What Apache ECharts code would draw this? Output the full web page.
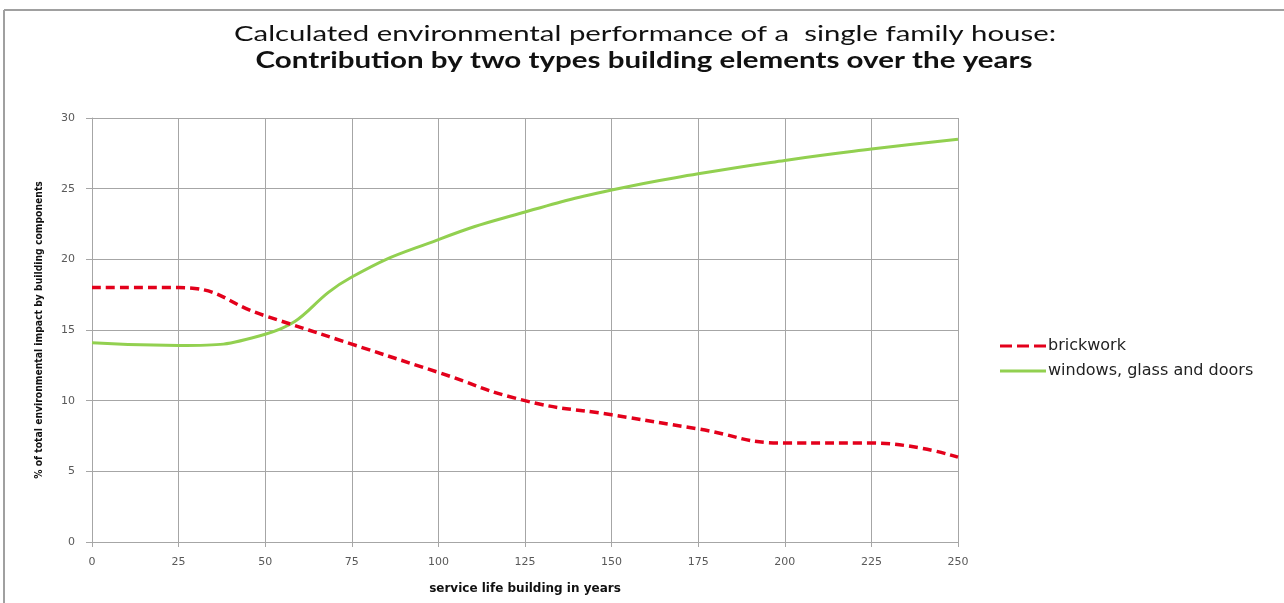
<!DOCTYPE html>
<html>
<head>
<meta charset="utf-8">
<script src="https://cdn.jsdelivr.net/npm/echarts@6/dist/echarts.min.js"></script>
<style>
  html, body { margin: 0; padding: 0; background: #fff; }
  #chart { width: 1284px; height: 603px; }
</style>
</head>
<body>
<div id="chart"></div>
<script>
// Service life in years (x values)
const years = [0, 25, 50, 75, 100, 125, 150, 175, 200, 225, 250];
// Share of total environmental impact (%)
const brickwork = [18, 18, 16, 14, 12, 10, 9, 8, 7, 7, 6];
const windowsGlassDoors = [14.1, 13.9, 14.7, 18.75, 21.4, 23.35, 24.9, 26.05, 27.0, 27.8, 28.5];
const seriesNames = ['brickwork', 'windows, glass and doors'];
const titleLines = ['Calculated environmental performance of a  single family house:',
                    'Contribution by two types building elements over the years'];

const gridColor = '#a6a6a6';
const tickColor = '#595959';
const red = '#e3001b';
const green = '#92d050';

// legend keys: dashed and solid line swatches
const dashedKey = 'path://M0,0h12v3h-12z M17,0h12v3h-12z M34,0h12v3h-12z';
const solidKey = 'path://M0,0h46v3h-46z';

const chart = echarts.init(document.getElementById('chart'), null, { renderer: 'canvas' });

chart.setOption({
  backgroundColor: '#ffffff',
  animation: false,
  graphic: [
    // outer frame (top and left edges)
    { type: 'line', shape: { x1: 4, y1: 10, x2: 1284, y2: 10 }, style: { stroke: '#a0a0a0', lineWidth: 2 } },
    { type: 'line', shape: { x1: 4, y1: 10, x2: 4, y2: 603 }, style: { stroke: '#a0a0a0', lineWidth: 2 } },
    // two-line heading, widened type
    {
      type: 'text', x: 645, y: 34, scaleX: 1.334,
      style: { text: titleLines[0], align: 'center', verticalAlign: 'middle',
               font: 'normal 22px Lato', fill: '#111' }
    },
    {
      type: 'text', x: 644, y: 61, scaleX: 1.342,
      style: { text: titleLines[1], align: 'center', verticalAlign: 'middle',
               font: 'bold 22px Lato', fill: '#111' }
    }
  ],
  legend: {
    orient: 'vertical',
    left: 995, top: 333,
    itemWidth: 46, itemHeight: 3, itemGap: 9,
    textStyle: { fontFamily: 'DejaVu Sans', fontSize: 16, color: '#222', padding: [0, 0, 0, -3] },
    data: [
      { name: seriesNames[0], icon: dashedKey },
      { name: seriesNames[1], icon: solidKey }
    ]
  },
  grid: { left: 92, right: 326, top: 118, bottom: 61 },
  xAxis: {
    type: 'value', min: 0, max: 250, interval: 25,
    name: 'service life building in years',
    nameLocation: 'middle', nameGap: 41,
    nameTextStyle: { fontFamily: 'DejaVu Sans', fontSize: 12, fontWeight: 'bold', color: '#111' },
    axisLine: { show: true, lineStyle: { color: gridColor, width: 1 } },
    axisTick: { show: true, length: 5, lineStyle: { color: gridColor } },
    axisLabel: { margin: 15, fontFamily: 'DejaVu Sans', fontSize: 11, color: tickColor },
    splitLine: { show: true, lineStyle: { color: gridColor, width: 1 } }
  },
  yAxis: {
    type: 'value', min: 0, max: 30, interval: 5,
    name: '% of total environmental impact by building components',
    nameLocation: 'middle', nameGap: 48, nameRotate: 90,
    nameTextStyle: { fontFamily: 'DejaVu Sans Condensed', fontSize: 10.3, fontWeight: 'bold', color: '#111' },
    axisLine: { show: true, lineStyle: { color: gridColor, width: 1 } },
    axisTick: { show: true, length: 6, lineStyle: { color: gridColor } },
    axisLabel: { margin: 17, fontFamily: 'DejaVu Sans', fontSize: 11, color: tickColor },
    splitLine: { show: true, lineStyle: { color: gridColor, width: 1 } }
  },
  series: [
    {
      name: seriesNames[0], type: 'line', smooth: 0.5, symbol: 'none',
      data: years.map((y, i) => [y, brickwork[i]]),
      lineStyle: { color: red, width: 3.5, type: [9, 5] },
      itemStyle: { color: red }, z: 3
    },
    {
      name: seriesNames[1], type: 'line', smooth: 0.5, symbol: 'none',
      data: years.map((y, i) => [y, windowsGlassDoors[i]]),
      lineStyle: { color: green, width: 3 },
      itemStyle: { color: green }, z: 2
    }
  ]
});
</script>
</body>
</html>
